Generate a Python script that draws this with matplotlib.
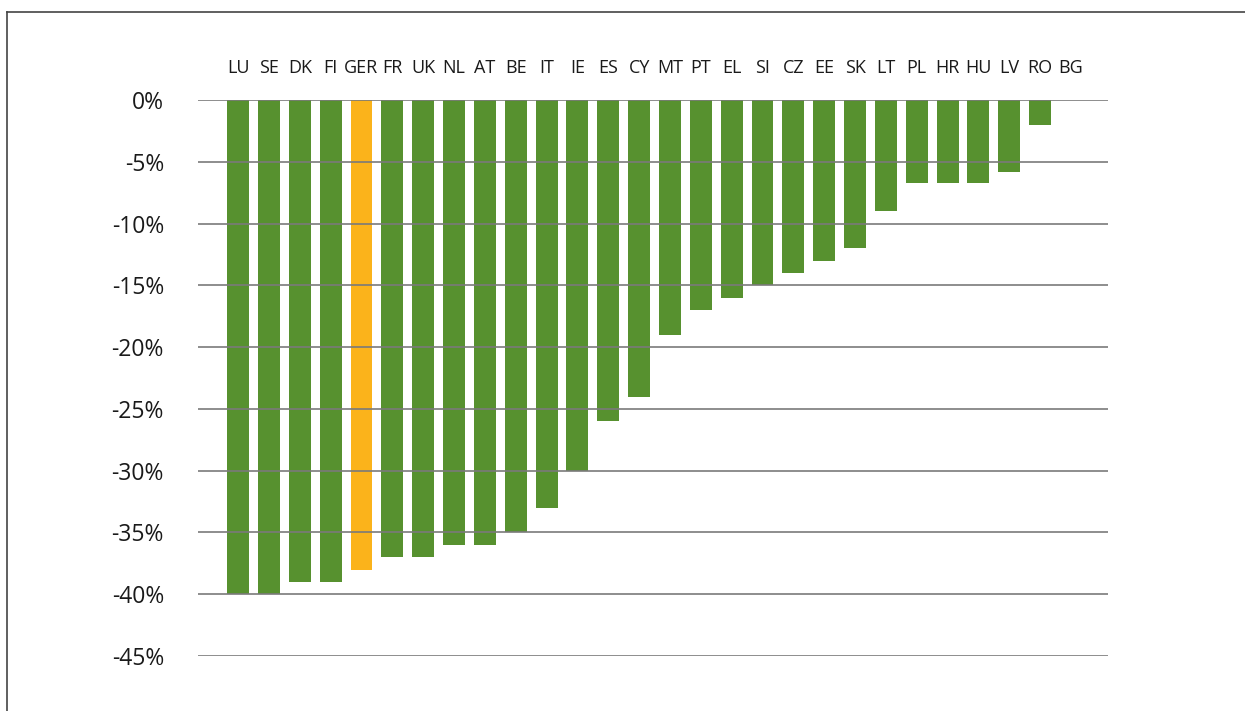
import matplotlib
matplotlib.use("Agg")
import matplotlib.pyplot as plt
from matplotlib.lines import Line2D
import matplotlib.transforms as mtransforms

countries = ["LU", "SE", "DK", "FI", "GER", "FR", "UK", "NL", "AT", "BE", "IT", "IE",
             "ES", "CY", "MT", "PT", "EL", "SI", "CZ", "EE", "SK", "LT", "PL", "HR",
             "HU", "LV", "RO", "BG"]
values = [-40, -40, -39, -39, -38, -37, -37, -36, -36, -35, -33, -30,
          -26, -24, -19, -17, -16, -15, -14, -13, -12, -9, -6.7, -6.7,
          -6.7, -5.8, -2, 0]
highlight = "GER"
yticks = [0, -5, -10, -15, -20, -25, -30, -35, -40, -45]
ytick_labels = ["0%", "-5%", "-10%", "-15%", "-20%", "-25%", "-30%", "-35%", "-40%", "-45%"]

plt.rcParams['font.family'] = ['Open Sans', 'DejaVu Sans']

W, H = 1245, 711
fig = plt.figure(figsize=(W / 100, H / 100), dpi=100)
left, right, top, bottom = 198, 1108, 100, 656
ax = fig.add_axes([left / W, 1 - bottom / H, (right - left) / W, (bottom - top) / H])

green = "#57912f"
orange = "#fbb31b"
colors = [orange if c == highlight else green for c in countries]
x = list(range(len(countries)))
ax.bar(x, values, width=0.71, color=colors, zorder=2)

ax.set_xlim(-1.30, 28.2)
ax.set_ylim(-45, 0)
ax.set_yticks(yticks)
ax.set_yticklabels(ytick_labels, fontsize=16.5, color="#1a1a1a")
ax.tick_params(axis='y', length=0, pad=24.5)
ax.set_xticks([])
for s in ax.spines.values():
    s.set_visible(False)
ax.set_axisbelow(False)
ax.yaxis.grid(True, color="#7a7a7a", linewidth=1.2, zorder=3)

trans = mtransforms.blended_transform_factory(ax.transData, ax.transAxes)
for i, c in enumerate(countries):
    ax.text(i, 1 + 32 / (bottom - top), c, transform=trans, ha='center', va='center',
            fontsize=13, color="#1a1a1a")

# outer frame lines
fig.add_artist(Line2D([7 / W, 1], [1 - 12 / H, 1 - 12 / H], transform=fig.transFigure,
                      color="#444444", linewidth=1.2))
fig.add_artist(Line2D([7 / W, 7 / W], [0, 1 - 12 / H], transform=fig.transFigure,
                      color="#444444", linewidth=1.2))

fig.savefig("out.png", dpi=100)
